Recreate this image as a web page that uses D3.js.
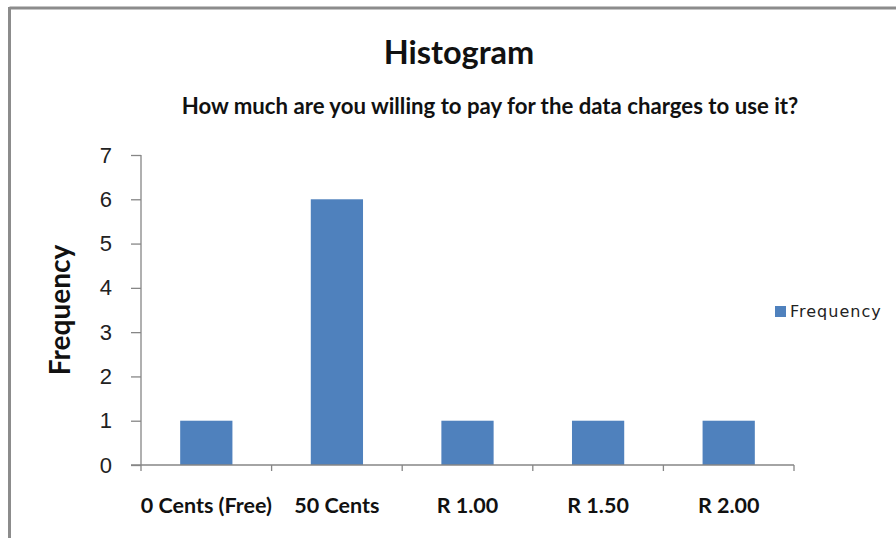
<!DOCTYPE html>
<html><head><meta charset="utf-8">
<script src="https://cdn.jsdelivr.net/npm/d3@7"></script>
<style>
body{margin:0;background:#fff;}
svg{display:block;}
</style></head>
<body>
<script>
const categories = ["0 Cents (Free)", "50 Cents", "R 1.00", "R 1.50", "R 2.00"];
const frequency = [1, 6, 1, 1, 1];
const yTicks = [0, 1, 2, 3, 4, 5, 6, 7];
const seriesName = "Frequency";
const titleText = "Histogram";
const subtitleText = "How much are you willing to pay for the data charges to use it?";

const W = 896, H = 538;
const font = "Lato,'Open Sans',sans-serif";
const fontSans = "'Liberation Sans',Arial,sans-serif";
const fontLegend = "'DejaVu Sans',Verdana,sans-serif";
const svg = d3.select("body").append("svg").attr("width", W).attr("height", H);

// border (top & left only visible)
svg.append("line").attr("x1", 9.5).attr("x2", W).attr("y1", 8).attr("y2", 8).attr("stroke", "#8c8c8c").attr("stroke-width", 3);
svg.append("line").attr("x1", 9.5).attr("x2", 9.5).attr("y1", 7).attr("y2", H).attr("stroke", "#8c8c8c").attr("stroke-width", 3);

const x = d3.scaleBand().domain(categories).range([141, 794]).padding(0);
const y = d3.scaleLinear().domain([0, 7]).range([465, 155]);

// bars
const barFrac = 0.4;
svg.append("g").selectAll("rect").data(frequency).join("rect")
  .attr("x", (d, i) => x(categories[i]) + x.bandwidth() * (1 - barFrac) / 2)
  .attr("width", x.bandwidth() * barFrac)
  .attr("y", d => y(d))
  .attr("height", d => y(0) - y(d))
  .attr("fill", "#4F81BD");

// y axis
const yAxis = svg.append("g").attr("transform", "translate(141,0)")
  .call(d3.axisLeft(y).tickValues(yTicks).tickSize(10).tickPadding(19).tickFormat(d3.format("d")));
yAxis.select(".domain").attr("stroke", "#868686").attr("stroke-width", 1.3).attr("d", "M0,155V465");
yAxis.selectAll(".tick line").attr("stroke", "#868686").attr("stroke-width", 1.3);
yAxis.selectAll(".tick text").attr("font-family", fontSans).attr("font-size", 22).attr("fill", "#222");

// x axis
const xAxis = svg.append("g").attr("transform", "translate(0,465)");
xAxis.append("line").attr("x1", 131).attr("x2", 794).attr("y1", 0).attr("y2", 0).attr("stroke", "#868686").attr("stroke-width", 1.3);
const xTickPos = categories.map(c => x(c)).concat([x(categories[categories.length - 1]) + x.bandwidth()]);
xAxis.selectAll("line.t").data(xTickPos).join("line").attr("class", "t")
  .attr("x1", d => d).attr("x2", d => d).attr("y1", 0).attr("y2", 6)
  .attr("stroke", "#868686").attr("stroke-width", 1.3);
xAxis.selectAll("text").data(categories).join("text")
  .attr("x", d => x(d) + x.bandwidth() / 2)
  .attr("y", 48)
  .attr("text-anchor", "middle")
  .attr("font-family", font).attr("font-weight", "bold").attr("font-size", 21.5).attr("fill", "#111")
  .text(d => d);

// titles
svg.append("text").attr("x", 459).attr("y", 64).attr("text-anchor", "middle")
  .attr("font-family", font).attr("font-weight", "bold").attr("font-size", 32.5).attr("fill", "#111").text(titleText);
svg.append("text").attr("x", 490).attr("y", 114).attr("text-anchor", "middle")
  .attr("font-family", font).attr("font-weight", "bold").attr("font-size", 22.2).attr("fill", "#111").text(subtitleText);

// y title
svg.append("text").attr("transform", "translate(70,310) rotate(-90)").attr("text-anchor", "middle")
  .attr("font-family", font).attr("font-weight", "bold").attr("font-size", 28).attr("fill", "#111").text("Frequency");

// legend
svg.append("rect").attr("x", 775).attr("y", 306).attr("width", 11).attr("height", 11).attr("fill", "#4F81BD");
svg.append("text").attr("x", 790).attr("y", 317).attr("font-family", fontLegend).attr("font-size", 16).attr("letter-spacing", 1).attr("fill", "#222").text(seriesName);
</script>
</body></html>
